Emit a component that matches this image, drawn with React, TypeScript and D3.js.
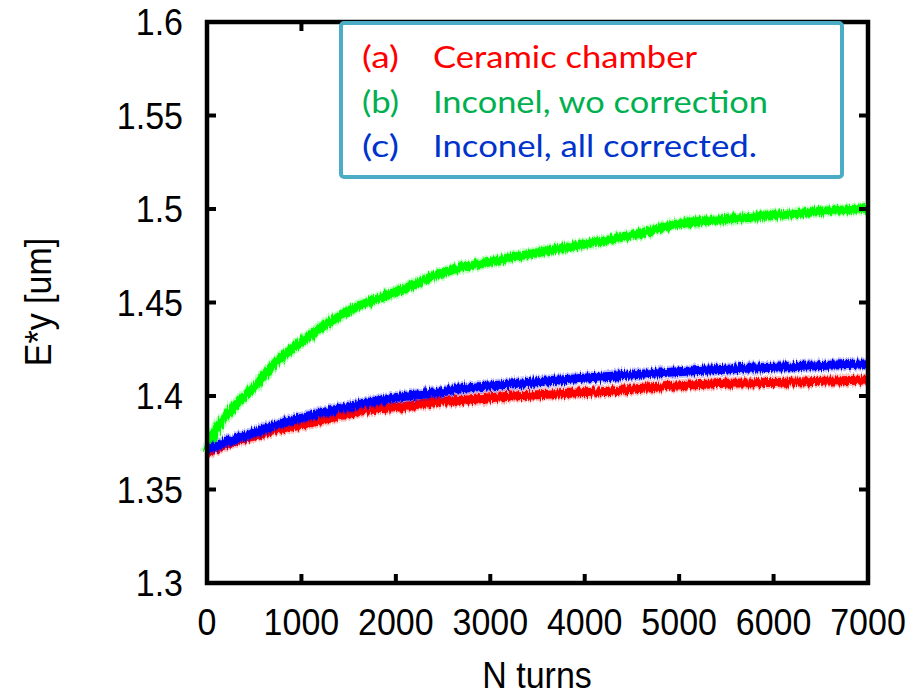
import * as d3 from 'd3';

// values (N turns -> E*y [um])
const turnsA = [0, 250, 600, 1000, 1350, 1700, 2050, 2400, 2750, 3100, 3450, 4100, 4800, 5500, 6250, 7000];
const ceramic = [1.370, 1.3749, 1.3802, 1.3845, 1.3888, 1.3925, 1.3941, 1.3968, 1.3979, 1.3995, 1.4005, 1.4021, 1.4048, 1.4068, 1.4075, 1.4085];

const turnsB = [0, 100, 250, 500, 750, 1000, 1250, 1500, 1750, 2000, 2500, 3000, 3500, 4000, 4500, 5000, 5500, 6000, 6500, 7000];
const inconelWo = [1.370, 1.382, 1.392, 1.405, 1.419, 1.429, 1.438, 1.4455, 1.451, 1.4555, 1.466, 1.4717, 1.4766, 1.4812, 1.486, 1.4920, 1.4945, 1.4965, 1.4988, 1.5002];

const turnsC = [0, 275, 635, 985, 1335, 1695, 2045, 2395, 2755, 3105, 3450, 4130, 4830, 5540, 6250, 7000];
const inconelAll = [1.3715, 1.3765, 1.3829, 1.3882, 1.3925, 1.3963, 1.3995, 1.4016, 1.4043, 1.4059, 1.4075, 1.4100, 1.4125, 1.4145, 1.4158, 1.4172];

const xTicks = [0, 1000, 2000, 3000, 4000, 5000, 6000, 7000];
const yTicks = [1.3, 1.35, 1.4, 1.45, 1.5, 1.55, 1.6];
const yTickLabels = ['1.3', '1.35', '1.4', '1.45', '1.5', '1.55', '1.6'];

const legendTags = ['(a)', '(b)', '(c)'];
const legendNames = ['Ceramic chamber', 'Inconel, wo correction', 'Inconel, all corrected.'];
const legendWidths = [264, 335, 324];
const legendColors = ['#ff0000', '#00b050', '#0033cc'];

const seriesColors = ['#ff0000', '#00ff00', '#0000ff'];

const W = 918, H = 699;
const plot = { left: 207, right: 868, top: 22, bottom: 583 };
const font = '"Liberation Sans", Arial, sans-serif';

const App = () => {
    const x = d3.scaleLinear().domain([0, 7000]).range([plot.left, plot.right]);
    const y = d3.scaleLinear().domain([1.3, 1.6]).range([plot.bottom, plot.top]);

    const line = (ts: number[], vs: number[]) =>
        d3.line<number>()
            .x((d, i) => x(ts[i]))
            .y((d) => y(d))
            .curve(d3.curveMonotoneX)(vs) as string;

    const series = [
        { d: line(turnsA, ceramic), color: seriesColors[0] },
        { d: line(turnsB, inconelWo), color: seriesColors[1] },
        { d: line(turnsC, inconelAll), color: seriesColors[2] },
    ];
    // (b) first, then (a), then (c) on top
    const order = [1, 0, 2];

    const tick = 9;

    return (
        <svg width={W} height={H} style={{ position: 'absolute', left: 0, top: 0, background: '#fff' }}>
            <defs>
                <filter id="jag" x="-5%" y="-30%" width="110%" height="160%">
                    <feTurbulence type="fractalNoise" baseFrequency="0.7 0.04" numOctaves={2} seed={4} result="n" />
                    <feDisplacementMap in="SourceGraphic" in2="n" scale={8} xChannelSelector="R" yChannelSelector="G" />
                </filter>
            </defs>
            <rect width={W} height={H} fill="#fff" />

            <g>
                {order.map((i) => (
                    <g key={i} filter="url(#jag)">
                        <path d={series[i].d} fill="none" stroke={series[i].color} strokeWidth={13} opacity={0.25} />
                        <path d={series[i].d} fill="none" stroke={series[i].color} strokeWidth={9} />
                    </g>
                ))}
            </g>

            {/* ticks on all four sides */}
            {xTicks.map((t) => (
                <g key={'xt' + t} stroke="#000" strokeWidth={4}>
                    <line x1={x(t)} x2={x(t)} y1={plot.bottom} y2={plot.bottom - tick} />
                    <line x1={x(t)} x2={x(t)} y1={plot.top} y2={plot.top + tick} />
                </g>
            ))}
            {yTicks.map((t) => (
                <g key={'yt' + t} stroke="#000" strokeWidth={4}>
                    <line x1={plot.left} x2={plot.left + tick} y1={y(t)} y2={y(t)} />
                    <line x1={plot.right} x2={plot.right - tick} y1={y(t)} y2={y(t)} />
                </g>
            ))}
            <rect x={plot.left} y={plot.top} width={plot.right - plot.left} height={plot.bottom - plot.top}
                fill="none" stroke="#000" strokeWidth={4.5} />

            {xTicks.map((t) => (
                <text key={'xl' + t} transform={`translate(${x(t)},${635}) scale(1,1.1)`} textAnchor="middle"
                    fontFamily={font} fontSize={34} fill="#000">{t}</text>
            ))}
            {yTicks.map((t, i) => (
                <text key={'yl' + t} transform={`translate(183,${y(t) + 13}) scale(1,1.1)`} textAnchor="end"
                    fontFamily={font} fontSize={34} fill="#000">{yTickLabels[i]}</text>
            ))}

            <text transform={`translate(537,688) scale(1,1.1)`} textAnchor="middle" fontFamily={font} fontSize={34}>N turns</text>
            <text transform={`translate(51,302) rotate(-90) scale(1,1.1)`} textAnchor="middle" fontFamily={font} fontSize={34}>E*y [um]</text>

            {/* legend */}
            <rect x={341} y={23} width={501} height={154} rx={3} fill="#fff" stroke="#4bacc6" strokeWidth={4} />
            {legendNames.map((name, i) => (
                <g key={name} fill={legendColors[i]} fontFamily="Lato, 'Noto Sans', sans-serif" fontSize={30}>
                    <text x={362} y={68 + i * 44.5} textLength={37} lengthAdjust="spacingAndGlyphs">{legendTags[i]}</text>
                    <text x={433} y={68 + i * 44.5} textLength={legendWidths[i]} lengthAdjust="spacingAndGlyphs">{name}</text>
                </g>
            ))}
        </svg>
    );
};

export default App;
